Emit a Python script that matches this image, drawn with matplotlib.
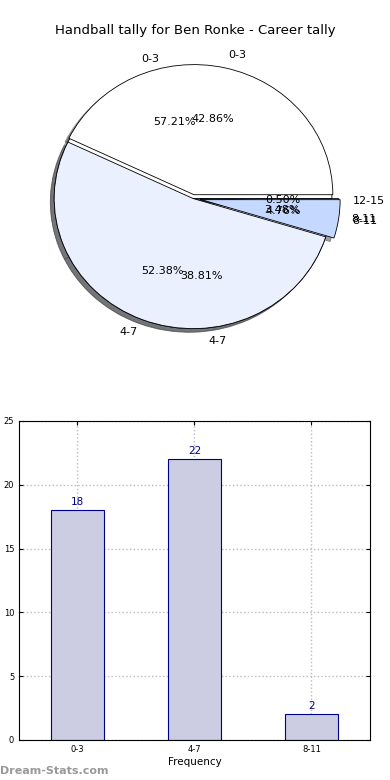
import matplotlib

matplotlib.use("Agg")
import matplotlib.pyplot as plt
import numpy as np

# career tally (all games) and per-season tally
career_labels = ["0-3", "4-7", "8-11", "12-15"]
career_pct = [57.21, 38.81, 3.48, 0.50]
season_labels = ["0-3", "4-7", "8-11"]
season_counts = [18, 22, 2]

pie_colors = ["#ffffff", "#eaf0fd", "#c5d8ff", "#9fbff5"]

fig = plt.figure(figsize=(3.9, 7.8), dpi=100)
fig.text(0.5, 0.961, "Handball tally for Ben Ronke - Career tally",
         ha="center", va="center", fontsize=9.5)

# --- pie: two overlaid pies ---
ax = fig.add_axes([0.05, 0.537, 0.89, 0.417])
ax.pie(career_pct, labels=career_labels, colors=pie_colors,
       autopct="%1.2f%%", shadow=True, explode=[0.0, 0.0, 0.05, 0.05],
       wedgeprops=dict(edgecolor="black", linewidth=0.6),
       textprops=dict(fontsize=8))
ax.pie(season_counts, labels=season_labels, colors=pie_colors[:3],
       autopct="%1.2f%%", shadow=True, explode=[0.03, 0.0, 0.06],
       wedgeprops=dict(edgecolor="black", linewidth=0.6),
       textprops=dict(fontsize=8))
ax.set_aspect("auto")
ax.set_xlim(-1.25, 1.25)
ax.set_ylim(-1.25, 1.25)

# --- bar chart ---
bx = fig.add_axes([0.0487, 0.0513, 0.9, 0.409])
x = np.arange(len(season_labels))
bx.bar(x, season_counts, width=0.45, color="#ccccE3",
       edgecolor="#00008b", linewidth=0.8, zorder=2)
for xi, v in zip(x, season_counts):
    bx.text(xi, v + 0.25, str(v), ha="center", va="bottom",
            fontsize=7.5, color="#00008b")
bx.set_xlim(-0.5, 2.5)
bx.set_ylim(0, 25)
bx.set_yticks(range(0, 26, 5))
bx.set_xticks(x)
bx.set_xticklabels(season_labels)
bx.tick_params(labelsize=6, direction="in", top=True, right=True, length=3)
bx.grid(True, linestyle=":", color="#bbbbbb", linewidth=1, zorder=0)
bx.set_xlabel("Frequency", fontsize=7.5, labelpad=2)
for s in bx.spines.values():
    s.set_linewidth(0.8)

# y label sits partly outside the canvas, as in the source image
fig.text(-0.013, 0.255, "Handball Tally", rotation=90, ha="center",
         va="center", fontsize=7.5)
fig.text(0.0, 0.012, "Dream-Stats.com", ha="left", va="center",
         fontsize=8, color="#999999", fontweight="bold")

fig.savefig("out.png", dpi=100)
